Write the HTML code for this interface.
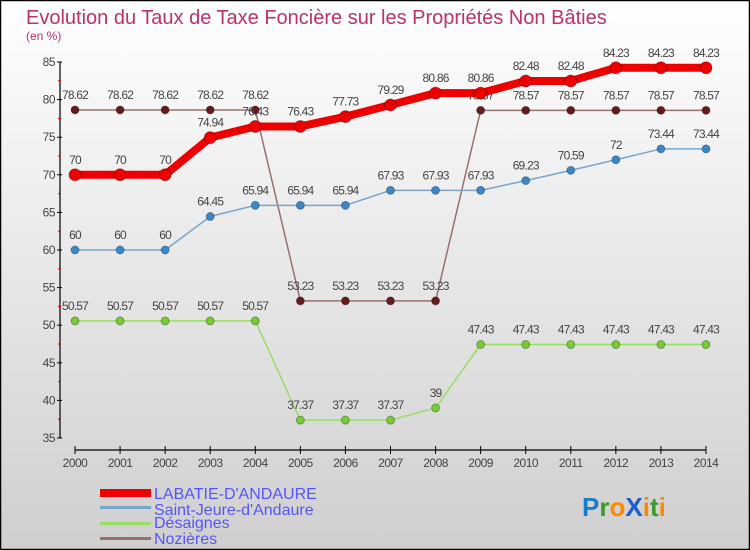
<!DOCTYPE html>
<html><head><meta charset="utf-8"><style>
body{margin:0}
#c{width:750px;height:550px;position:relative;overflow:hidden;font-family:"Liberation Sans",sans-serif;}
</style></head><body>
<div id="c">
<svg id="s" width="750" height="550" xmlns="http://www.w3.org/2000/svg">
<defs><linearGradient id="bg" x1="0" y1="0" x2="0" y2="1"><stop offset="0" stop-color="#ffffff"/><stop offset="1" stop-color="#cfcfcf"/></linearGradient></defs>
<rect x="0.5" y="0.5" width="749" height="549" fill="url(#bg)" stroke="#000" stroke-width="1.5"/>
<text x="26" y="24" font-size="20" fill="#c0306a">Evolution du Taux de Taxe Foncière sur les Propriétés Non Bâties</text>
<text x="26" y="40" font-size="12" fill="#c0306a">(en %)</text>
<g id="axes"></g><g id="series"></g>
<g>
<rect x="100" y="489" width="51" height="8" fill="#ee0000"/>
<text x="154" y="499" font-size="16" fill="#5555ff">LABATIE-D'ANDAURE</text>
<rect x="100" y="506" width="51" height="3" fill="#7aa6cc"/>
<text x="154" y="515" font-size="16" fill="#5555ff">Saint-Jeure-d'Andaure</text>
<rect x="100" y="522" width="51" height="3" fill="#99dd66"/>
<text x="154" y="528" font-size="16" fill="#5555ff">Désaignes</text>
<rect x="100" y="537" width="51" height="3" fill="#997070"/>
<text x="154" y="544" font-size="16" fill="#5555ff">Nozières</text>
</g>
<g font-size="26" font-weight="bold">
<text x="582" y="516"><tspan fill="#1a7acc">P</tspan><tspan fill="#3a9a2a">r</tspan><tspan fill="#ff8800">o</tspan><tspan fill="#1a5ecc">X</tspan><tspan fill="#ff8800">i</tspan><tspan fill="#3a9a2a">t</tspan><tspan fill="#ff8800">i</tspan></text>
</g>
</svg>
</div>
<script>
const years=[2000,2001,2002,2003,2004,2005,2006,2007,2008,2009,2010,2011,2012,2013,2014];
const labatie=[70,70,70,74.94,76.43,76.43,77.73,79.29,80.86,80.86,82.48,82.48,84.23,84.23,84.23];
const saintJeure=[60,60,60,64.45,65.94,65.94,65.94,67.93,67.93,67.93,69.23,70.59,72,73.44,73.44];
const desaignes=[50.57,50.57,50.57,50.57,50.57,37.37,37.37,37.37,39,47.43,47.43,47.43,47.43,47.43,47.43];
const nozieres=[78.62,78.62,78.62,78.62,78.62,53.23,53.23,53.23,53.23,78.57,78.57,78.57,78.57,78.57,78.57];
const yTicks=[35,40,45,50,55,60,65,70,75,80,85];
const NS="http://www.w3.org/2000/svg";
const xS=i=>75+i*(706-75)/(years.length-1);
const yS=v=>438-(v-35)*(438-62)/50;
function mk(tag,attrs,parent){const e=document.createElementNS(NS,tag);for(const k in attrs)e.setAttribute(k,attrs[k]);parent.appendChild(e);return e;}
const ax=document.getElementById('axes');
mk('line',{x1:60,y1:yS(85),x2:60,y2:yS(35),stroke:'#000','stroke-width':1.2},ax);
mk('line',{x1:xS(0),y1:450,x2:xS(14),y2:450,stroke:'#000','stroke-width':1.2},ax);
yTicks.forEach(v=>{
 mk('line',{x1:57,y1:yS(v),x2:62,y2:yS(v),stroke:'#000'},ax);
 if(v<85) mk('line',{x1:58,y1:yS(v+2.5),x2:61,y2:yS(v+2.5),stroke:'#d00'},ax);
 const t=mk('text',{x:55,y:yS(v)+4,'text-anchor':'end','font-size':12,fill:'#444','letter-spacing':'-0.5'},ax);
 t.textContent=v;
 
 
});
years.forEach((y,i)=>{
 mk('line',{x1:xS(i),y1:446,x2:xS(i),y2:454,stroke:'#000'},ax);
 const t=mk('text',{x:xS(i),y:467,'text-anchor':'middle','font-size':12,fill:'#444','letter-spacing':'-0.5'},ax);
 t.textContent=y;
 
 
});
const sg=document.getElementById('series');
function series(name,vals,line,w,dot,r){
 const g=mk('g',{},sg);
 
 
 mk('polyline',{points:vals.map((v,i)=>xS(i)+','+yS(v)).join(' '),fill:'none',stroke:line,'stroke-width':w,'stroke-linejoin':'round'},g);
 vals.forEach((v,i)=>{
  const c=mk('circle',{cx:xS(i),cy:yS(v),r:r,fill:dot,stroke:'rgba(0,0,0,0.3)'},g);
  
  
  const t=mk('text',{x:xS(i),y:yS(v)-11,'text-anchor':'middle','font-size':12,fill:'#444','letter-spacing':'-0.8'},g);
  t.textContent=String(v);
  
  
 });
}
series('nozieres-series',nozieres,'#997070',1.5,'#661a1a',4);
series('desaignes-series',desaignes,'#99dd66',1.5,'#77cc33',4);
series('saint-jeure-series',saintJeure,'#7aa6cc',1.5,'#3a88cc',4);
series('labatie-series',labatie,'#ee0000',8,'#ee0000',6);
</script>
</body></html>
